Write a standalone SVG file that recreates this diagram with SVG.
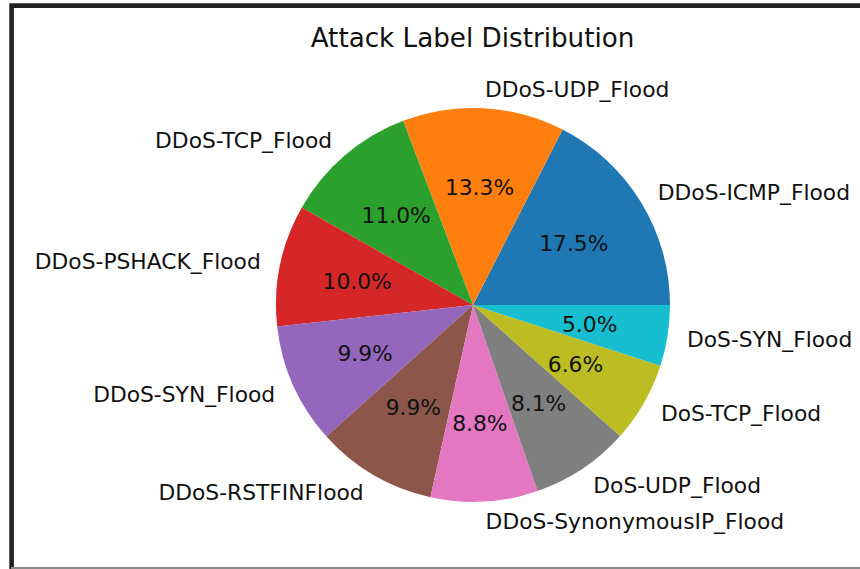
<svg xmlns="http://www.w3.org/2000/svg" width="860" height="569" viewBox="0 0 860 569">
  <style>
    text { font-family: "DejaVu Sans", "Liberation Sans", sans-serif; fill: #111; }
    .lbl { font-size: 21.8px; }
    .pct { font-size: 21.8px; text-anchor: middle; }
    .l { text-anchor: start; }
    .r { text-anchor: end; }
    .title { font-size: 26.2px; text-anchor: middle; }
  </style>
  <rect x="0" y="0" width="860" height="569" fill="#ffffff"/>
  <!-- figure frame -->
  <path d="M 11.6 569 V 5.6 H 860" fill="none" stroke="#222" stroke-width="4.6"/>
  <line x1="11" y1="568" x2="860" y2="568" stroke="#8a8a8a" stroke-width="2"/>

  <text class="title" x="472.5" y="47">Attack Label Distribution</text>

  <g id="connectors"></g>

  <!-- wedges: centre (473,305), radius 197, counter-clockwise from east -->
  <g id="ddos-icmp">
    <path d="M473 305 L670 305 A197 197 0 0 0 562.6 129.6 Z" fill="#1f77b4"/>
    <text class="pct" x="573.8" y="251.3">17.5%</text>
    <text class="lbl l" x="657.8" y="199.9">DDoS-ICMP_Flood</text>
  </g>
  <g id="ddos-udp">
    <path d="M473 305 L562.6 129.6 A197 197 0 0 0 403.1 120.8 Z" fill="#ff7f0e"/>
    <text class="pct" x="479.5" y="195">13.3%</text>
    <text class="lbl l" x="484.9" y="96.6">DDoS-UDP_Flood</text>
  </g>
  <g id="ddos-tcp">
    <path d="M473 305 L403.1 120.8 A197 197 0 0 0 301.8 207.5 Z" fill="#2ca02c"/>
    <text class="pct" x="396.2" y="223.2">11.0%</text>
    <text class="lbl r" x="332.1" y="148.4">DDoS-TCP_Flood</text>
  </g>
  <g id="ddos-pshack">
    <path d="M473 305 L301.8 207.5 A197 197 0 0 0 277.2 326.6 Z" fill="#d62728"/>
    <text class="pct" x="357.2" y="289.1">10.0%</text>
    <text class="lbl r" x="260.8" y="269.1">DDoS-PSHACK_Flood</text>
  </g>
  <g id="ddos-syn">
    <path d="M473 305 L277.2 326.6 A197 197 0 0 0 326.4 436.6 Z" fill="#9467bd"/>
    <text class="pct" x="365.1" y="361.3">9.9%</text>
    <text class="lbl r" x="275.2" y="401.5">DDoS-SYN_Flood</text>
  </g>
  <g id="ddos-rstfin">
    <path d="M473 305 L326.4 436.6 A197 197 0 0 0 430.4 497.3 Z" fill="#8c564b"/>
    <text class="pct" x="413.4" y="415.1">9.9%</text>
    <text class="lbl r" x="363.7" y="500.1">DDoS-RSTFINFlood</text>
  </g>
  <g id="ddos-synonymousip">
    <path d="M473 305 L430.4 497.3 A197 197 0 0 0 537.6 491.1 Z" fill="#e377c2"/>
    <text class="pct" x="479.9" y="431">8.8%</text>
    <text class="lbl l" x="485.6" y="529.3">DDoS-SynonymousIP_Flood</text>
  </g>
  <g id="dos-udp">
    <path d="M473 305 L537.6 491.1 A197 197 0 0 0 620.1 436.1 Z" fill="#7f7f7f"/>
    <text class="pct" x="538.6" y="411.3">8.1%</text>
    <text class="lbl l" x="593.3" y="493.2">DoS-UDP_Flood</text>
  </g>
  <g id="dos-tcp">
    <path d="M473 305 L620.1 436.1 A197 197 0 0 0 660.4 365.8 Z" fill="#bcbd22"/>
    <text class="pct" x="575.5" y="371.8">6.6%</text>
    <text class="lbl l" x="660.9" y="420.9">DoS-TCP_Flood</text>
  </g>
  <g id="dos-syn">
    <path d="M473 305 L660.4 365.8 A197 197 0 0 0 670 305 Z" fill="#17becf"/>
    <text class="pct" x="589.7" y="331.5">5.0%</text>
    <text class="lbl l" x="687" y="346.8">DoS-SYN_Flood</text>
  </g>
</svg>
